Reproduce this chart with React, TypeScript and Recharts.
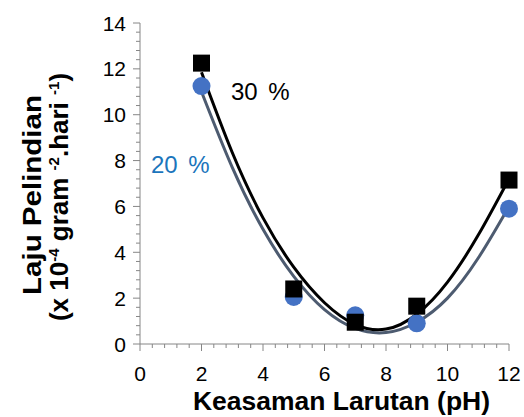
import React from 'react';
import { ComposedChart, Line, Scatter, XAxis, YAxis } from 'recharts';

// measured points (pH vs leaching rate, x 10^-4 gram^-2.hari^-1)
const phValues = [2, 5, 7, 9, 12];
const rate20 = [11.25, 2.05, 1.25, 0.9, 5.9];
const rate30 = [12.25, 2.4, 0.95, 1.65, 7.15];

// polynomial trendlines
const trendPh = [2, 3, 4, 5, 6, 7, 8, 9, 10, 11, 12];
const trend20 = [11.0, 7.7, 5.0, 2.95, 1.5, 0.68, 0.5, 0.95, 2.0, 3.75, 6.0];
const trend30 = [11.85, 8.35, 5.5, 3.35, 1.8, 0.85, 0.65, 1.3, 2.7, 4.75, 7.2];

// axis ticks: labelled every 2, minor marks every 0.4
const xMajor = [0, 2, 4, 6, 8, 10, 12];
const yMajor = [0, 2, 4, 6, 8, 10, 12, 14];
const xMinor = Array.from({ length: 31 }, (_, i) => +(i * 0.4).toFixed(1));
const yMinor = Array.from({ length: 36 }, (_, i) => +(i * 0.4).toFixed(1));

const points20 = phValues.map((x, i) => ({ x, y: rate20[i] }));
const points30 = phValues.map((x, i) => ({ x, y: rate30[i] }));
const line20 = trendPh.map((x, i) => ({ x, y: trend20[i] }));
const line30 = trendPh.map((x, i) => ({ x, y: trend30[i] }));

const FONT = 'Arial, "Liberation Sans", sans-serif';
const AXIS = '#868686';

const isMajor = (v: number, list: number[]) => list.some((m) => Math.abs(m - v) < 1e-6);

const XTick = (props: any) => {
  const { x, y, payload } = props;
  const major = isMajor(payload.value, xMajor);
  return (
    <g>
      <line x1={x} x2={x} y1={y} y2={y + (major ? 7 : 4)} stroke={AXIS} />
      {major && (
        <text x={x} y={y + 37} textAnchor="middle" fontSize={21} fontFamily={FONT} fill="#000">
          {Math.round(payload.value)}
        </text>
      )}
    </g>
  );
};

const YTick = (props: any) => {
  const { x, y, payload } = props;
  const major = isMajor(payload.value, yMajor);
  return (
    <g>
      <line x1={x} x2={x - (major ? 7 : 4)} y1={y} y2={y} stroke={AXIS} />
      {major && (
        <text x={x - 14} y={y + 7.5} textAnchor="end" fontSize={21} fontFamily={FONT} fill="#000">
          {Math.round(payload.value)}
        </text>
      )}
    </g>
  );
};

const Circle = (props: any) => <circle cx={props.cx} cy={props.cy} r={9} fill="#4472C4" />;
const Square = (props: any) => (
  <rect x={props.cx - 8.5} y={props.cy - 8.5} width={17} height={17} fill="#000" />
);

export default function App() {
  return (
    <div style={{ position: 'absolute', left: 0, top: 0, width: 524, height: 417 }}>
      <ComposedChart width={524} height={417} margin={{ top: 23, right: 15, left: 0, bottom: 0 }}>
        <XAxis
          dataKey="x"
          type="number"
          domain={[0, 12]}
          ticks={xMinor}
          interval={0}
          tickSize={0}
          tickMargin={0}
          tick={<XTick />}
          height={73}
          stroke={AXIS}
        />
        <YAxis
          type="number"
          domain={[0, 14]}
          ticks={yMinor}
          interval={0}
          tickSize={0}
          tickMargin={0}
          tick={<YTick />}
          width={140}
          stroke={AXIS}
        />
        <Scatter data={points20} dataKey="y" shape={<Circle />} isAnimationActive={false} />
        <Scatter data={points30} dataKey="y" shape={<Square />} isAnimationActive={false} />
        <Line data={line20} dataKey="y" type="natural" dot={false} stroke="#4D5B70" strokeWidth={3} isAnimationActive={false} />
        <Line data={line30} dataKey="y" type="natural" dot={false} stroke="#000" strokeWidth={3} isAnimationActive={false} />
      </ComposedChart>
      <svg
        width={524}
        height={417}
        style={{ position: 'absolute', left: 0, top: 0, pointerEvents: 'none' }}
        fontFamily={FONT}
      >
        <text x={231} y={100} fontSize={24} style={{ wordSpacing: 4 }} fill="#000">30 %</text>
        <text x={151} y={173} fontSize={24} style={{ wordSpacing: 4 }} fill="#1B75BC">20 %</text>
        <text x={193} y={410} fontSize={25} fontWeight="bold" textLength={297} lengthAdjust="spacingAndGlyphs" fill="#000">
          Keasaman Larutan (pH)
        </text>
        <g transform="translate(41, 195) rotate(-90)">
          <text x={0} y={0} textAnchor="middle" fontSize={26} fontWeight="bold" textLength={200} lengthAdjust="spacingAndGlyphs" fill="#000">
            Laju Pelindian
          </text>
        </g>
        <g transform="translate(68, 197) rotate(-90)">
          <text x={0} y={0} textAnchor="middle" fontSize={26} fontWeight="bold" fill="#000">
            (x 10<tspan fontSize={15} dy={-9}>-4</tspan>
            <tspan dy={9}> gram </tspan>
            <tspan fontSize={15} dy={-9}>-2</tspan>
            <tspan dy={9}>.hari </tspan>
            <tspan fontSize={15} dy={-9}>-1</tspan>
            <tspan dy={9}>)</tspan>
          </text>
        </g>
      </svg>
    </div>
  );
}
